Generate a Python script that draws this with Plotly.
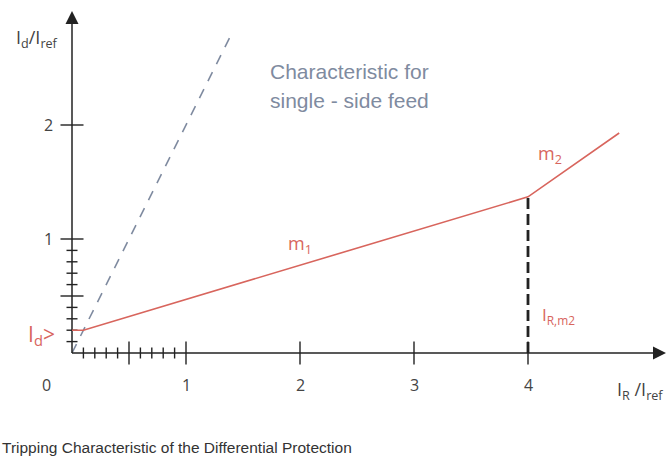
import plotly.graph_objects as go

# ---- data ----
id_min = 0.2            # I_d> pickup
ir_knee1 = 0.1          # end of horizontal part
ir_m2 = 4.0             # I_R,m2 knee
slope_m1 = 0.30
ir_end = 4.8
id_end = 1.93
single_feed_x = [0.0, 1.4]
single_feed_y = [0.0, 2.8]
x_major = [1, 2, 3, 4]
x_minor = [0.1, 0.2, 0.3, 0.4, 0.6, 0.7, 0.8, 0.9]
x_mid = [0.5]
y_major = [1, 2]
y_minor = [0.1, 0.2, 0.3, 0.4, 0.6, 0.7, 0.8, 0.9]
y_mid = [0.5]
x_tick_labels = ["1", "2", "3", "4"]
y_tick_labels = ["1", "2"]

id_knee = id_min + slope_m1 * (ir_m2 - ir_knee1)
char_x = [0.0, ir_knee1, ir_m2, ir_end]
char_y = [id_min, id_min, id_knee, id_end]

# ---- geometry (pixels -> data) ----
W, H = 668, 457
ox, oy = 72, 353
sx, sy = 114.0, 114.0
xr = [-ox / sx, (W - ox) / sx]
yr = [-(H - oy) / sy, oy / sy]
def X(px): return (px - ox) / sx
def Y(py): return (oy - py) / sy

AX = "#222222"
RED = "#d8655d"
BLUE = "#7f8ba0"
TXT = "#444444"

fig = go.Figure()

def vticks(xs, half):
    xx, yy = [], []
    for v in xs:
        xx += [v, v, None]; yy += [-half, half, None]
    return xx, yy

def hticks(ys, half):
    xx, yy = [], []
    for v in ys:
        xx += [-half, half, None]; yy += [v, v, None]
    return xx, yy

# single-side feed characteristic
fig.add_trace(go.Scatter(x=single_feed_x, y=single_feed_y, mode="lines",
                         line=dict(color=BLUE, width=1.6, dash="10px,9px"), hoverinfo="skip"))
# vertical dashed at I_R,m2
fig.add_trace(go.Scatter(x=[ir_m2, ir_m2], y=[0, id_knee], mode="lines",
                         line=dict(color=AX, width=2.8, dash="11px,5px"), hoverinfo="skip"))
# axes
fig.add_trace(go.Scatter(x=[0, X(660)], y=[0, 0], mode="lines",
                         line=dict(color=AX, width=1.5), hoverinfo="skip"))
fig.add_trace(go.Scatter(x=[0, 0], y=[0, Y(18)], mode="lines",
                         line=dict(color=AX, width=1.5), hoverinfo="skip"))
fig.add_trace(go.Scatter(x=[X(666)], y=[0], mode="markers",
                         marker=dict(symbol="arrow-right", size=13, color=AX, line=dict(width=0)),
                         hoverinfo="skip"))
fig.add_trace(go.Scatter(x=[0], y=[Y(11)], mode="markers",
                         marker=dict(symbol="arrow-up", size=13, color=AX, line=dict(width=0)),
                         hoverinfo="skip"))
# ticks
for xs, half in [(x_major + x_mid, 11.5 / sy), (x_minor, 5.5 / sy)]:
    a, b = vticks(xs, half)
    fig.add_trace(go.Scatter(x=a, y=b, mode="lines", line=dict(color=AX, width=1.4), hoverinfo="skip"))
for ys, half in [(y_major + y_mid, 11.5 / sx), (y_minor, 5.5 / sx)]:
    a, b = hticks(ys, half)
    fig.add_trace(go.Scatter(x=a, y=b, mode="lines", line=dict(color=AX, width=1.4), hoverinfo="skip"))
# tripping characteristic
fig.add_trace(go.Scatter(x=char_x, y=char_y, mode="lines",
                         line=dict(color=RED, width=1.6), hoverinfo="skip"))

ann = []
fnt = "Open Sans"
for v, t in zip(x_major, x_tick_labels):
    ann.append(dict(x=v, y=Y(385), text=t, font=dict(size=16, color=TXT, family=fnt)))
ann.append(dict(x=X(46), y=Y(385), text="0", font=dict(size=16, color=TXT, family=fnt)))
for v, t in zip(y_major, y_tick_labels):
    ann.append(dict(x=X(48), y=v, text=t, font=dict(size=16, color=TXT, family=fnt)))
ann.append(dict(x=X(14), y=Y(38), text="I<sub>d</sub>/I<sub>ref</sub>", xanchor="left",
                font=dict(size=18, color=TXT, family=fnt)))
ann.append(dict(x=X(615), y=Y(390), text="I<sub>R</sub> /I<sub>ref</sub>", xanchor="left",
                font=dict(size=18, color=TXT, family=fnt)))
ann.append(dict(x=X(26), y=Y(335), text="I<sub>d</sub>>", xanchor="left",
                font=dict(size=21, color=RED, family=fnt)))
ann.append(dict(x=X(286), y=Y(244), text="m<sub>1</sub>", xanchor="left",
                font=dict(size=18, color=RED, family=fnt)))
ann.append(dict(x=X(536), y=Y(154), text="m<sub>2</sub>", xanchor="left",
                font=dict(size=18, color=RED, family=fnt)))
ann.append(dict(x=X(540), y=Y(315), text="I<sub>R,m2</sub>", xanchor="left",
                font=dict(size=17, color=RED, family=fnt)))
ann.append(dict(x=X(268), y=Y(71), text="Characteristic for", xanchor="left",
                font=dict(size=21, color=BLUE, family="Liberation Sans")))
ann.append(dict(x=X(268), y=Y(100), text="single - side feed", xanchor="left",
                font=dict(size=21, color=BLUE, family="Liberation Sans")))
for a in ann:
    a.update(xref="x", yref="y", showarrow=False)
ann.append(dict(x=0, y=1 - 447 / H, xref="paper", yref="paper", xanchor="left", yanchor="middle",
                text="Tripping Characteristic of the Differential Protection", showarrow=False,
                font=dict(size=15.5, color="#333333", family="Liberation Sans")))

fig.update_layout(
    width=W, height=H, margin=dict(l=0, r=0, t=0, b=0),
    paper_bgcolor="white", plot_bgcolor="white", showlegend=False,
    xaxis=dict(range=xr, visible=False, fixedrange=True),
    yaxis=dict(range=yr, visible=False, fixedrange=True),
    annotations=ann,
)
fig.write_html(
    "out.html",
    config={"displayModeBar": False},
    post_script="document.body.style.margin='0';document.body.style.padding='0';"
                "document.documentElement.style.overflow='hidden';",
)
